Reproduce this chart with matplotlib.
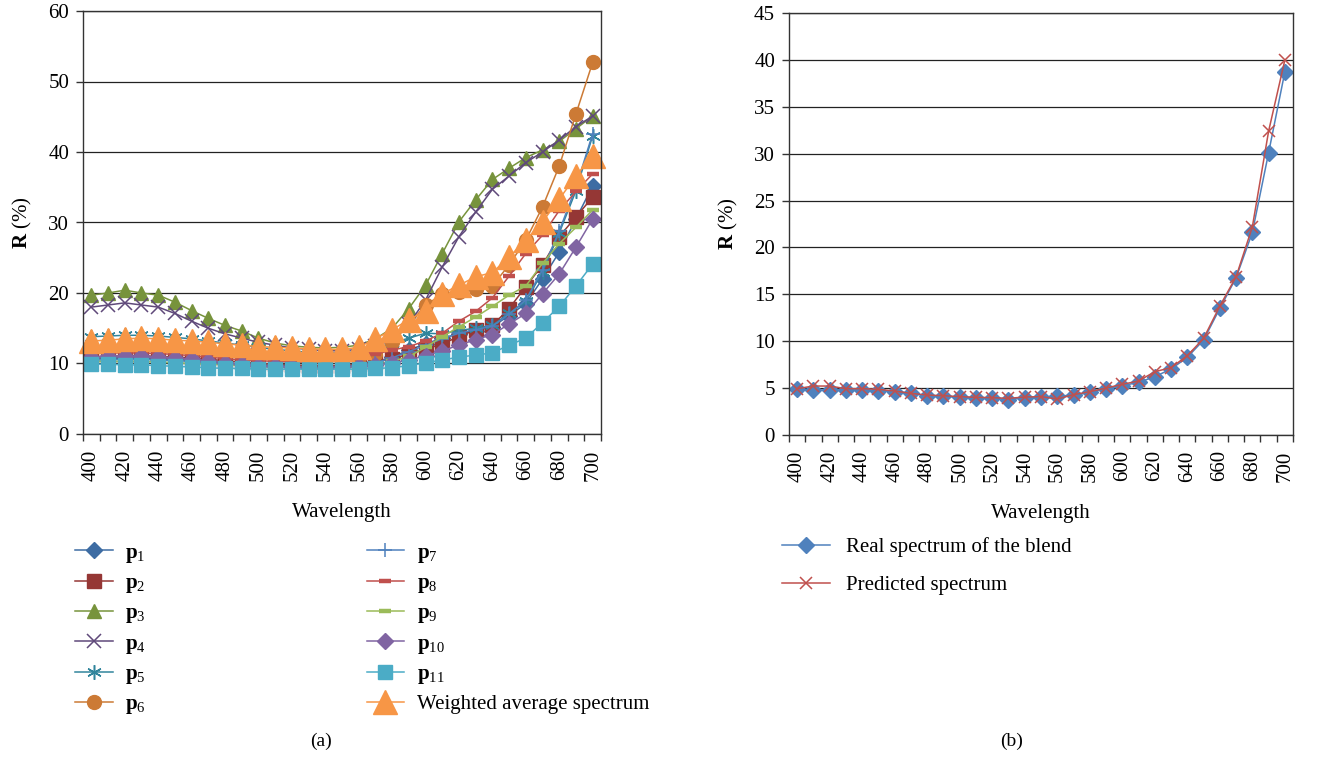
import matplotlib
matplotlib.use("Agg")
import matplotlib.pyplot as plt
from matplotlib.ticker import MultipleLocator

plt.rcParams['font.family'] = ['Liberation Serif', 'DejaVu Serif']
plt.rcParams['mathtext.fontset'] = 'custom'
plt.rcParams['mathtext.rm'] = 'Liberation Serif'
plt.rcParams['mathtext.bf'] = 'Liberation Serif:bold'
plt.rcParams['mathtext.it'] = 'Liberation Serif:italic'

wavelength = list(range(400, 710, 10))

# Reflectance (%) of the eleven components and their weighted average
p1 = [10.8, 10.8, 10.8, 10.8, 10.7, 10.6, 10.5, 10.3, 10.1, 9.9, 9.8, 9.7, 9.6, 9.5, 9.5, 9.6,
      9.8, 10.2, 10.9, 11.9, 12.8, 13.6, 14.2, 14.6, 15.2, 16.8, 18.5, 22.0, 25.8, 30.5, 35.2]
p2 = [11.0, 11.0, 11.1, 11.1, 11.0, 10.9, 10.8, 10.6, 10.4, 10.2, 10.0, 9.9, 9.8, 9.7, 9.7, 9.7,
      9.9, 10.2, 10.7, 11.3, 12.0, 12.8, 13.8, 14.8, 15.4, 17.8, 20.9, 24.0, 28.0, 30.8, 33.6]
p3 = [19.7, 20.0, 20.4, 20.0, 19.7, 18.7, 17.5, 16.4, 15.4, 14.6, 13.6, 12.9, 12.5, 12.3, 12.2, 12.3,
      12.6, 13.5, 15.0, 17.8, 21.1, 25.6, 30.1, 33.2, 36.1, 37.7, 39.2, 40.3, 41.5, 43.3, 45.1]
p4 = [18.0, 18.3, 18.6, 18.3, 18.0, 17.1, 16.0, 15.0, 14.2, 13.6, 13.0, 12.6, 12.2, 12.0, 11.8, 11.8,
      12.0, 12.5, 13.3, 15.6, 19.0, 23.7, 28.0, 31.5, 34.7, 36.6, 38.5, 40.0, 41.7, 43.6, 45.1]
p5 = [13.8, 13.9, 14.0, 14.0, 13.9, 13.7, 13.5, 13.2, 12.9, 12.6, 12.3, 12.0, 11.8, 11.6, 11.5, 11.5,
      11.7, 12.2, 12.9, 13.6, 14.3, 14.2, 14.7, 15.0, 15.4, 17.1, 18.8, 23.0, 28.5, 34.5, 42.3]
p6 = [12.0, 12.1, 12.2, 12.2, 12.1, 11.9, 11.7, 11.5, 11.3, 11.1, 10.9, 10.8, 10.7, 10.6, 10.6, 10.7,
      10.9, 11.4, 13.0, 15.5, 18.3, 19.8, 20.2, 20.5, 21.0, 24.0, 27.5, 32.2, 38.0, 45.4, 52.7]
p7 = [10.5, 10.5, 10.6, 10.6, 10.5, 10.4, 10.3, 10.1, 9.9, 9.8, 9.6, 9.5, 9.4, 9.4, 9.4, 9.5,
      9.7, 10.1, 10.8, 11.7, 12.6, 13.5, 14.3, 14.8, 15.3, 17.0, 19.0, 23.3, 28.8, 35.0, 42.6]
p8 = [11.4, 11.5, 11.5, 11.5, 11.4, 11.3, 11.1, 10.9, 10.7, 10.5, 10.4, 10.3, 10.2, 10.2, 10.3, 10.5,
      10.8, 11.3, 11.9, 12.4, 13.2, 14.3, 16.0, 17.4, 19.3, 22.4, 25.6, 28.2, 31.7, 34.4, 36.9]
p9 = [10.3, 10.3, 10.3, 10.3, 10.2, 10.1, 10.0, 9.9, 9.8, 9.7, 9.6, 9.5, 9.5, 9.4, 9.4, 9.4,
      9.5, 9.8, 10.3, 11.0, 12.3, 13.8, 15.2, 16.6, 18.1, 19.7, 21.0, 24.2, 27.0, 29.3, 31.8]
p10 = [10.9, 11.0, 11.0, 11.0, 10.9, 10.8, 10.6, 10.4, 10.1, 9.9, 9.7, 9.6, 9.5, 9.4, 9.4, 9.5,
       9.6, 9.8, 10.1, 10.5, 11.1, 11.8, 12.6, 13.4, 14.1, 15.6, 17.1, 19.9, 22.7, 26.5, 30.5]
p11 = [9.9, 9.9, 9.8, 9.8, 9.7, 9.6, 9.5, 9.4, 9.3, 9.3, 9.2, 9.2, 9.2, 9.2, 9.2, 9.2,
       9.2, 9.3, 9.4, 9.7, 10.1, 10.5, 10.9, 11.2, 11.5, 12.6, 13.6, 15.8, 18.1, 21.0, 24.1]
weighted_avg = [13.2, 13.3, 13.5, 13.6, 13.5, 13.3, 13.2, 13.0, 12.8, 12.6, 12.4, 12.3, 12.2, 12.1, 12.0, 12.0,
                12.3, 13.5, 14.8, 16.2, 17.5, 19.9, 21.1, 22.3, 22.9, 25.1, 27.5, 30.1, 33.3, 36.6, 39.5]

# Blend: measured vs predicted reflectance (%)
real_blend = [4.87, 4.8, 4.8, 4.8, 4.8, 4.73, 4.62, 4.44, 4.19, 4.12, 4.02, 3.94, 3.91, 3.77, 3.98, 4.02,
              4.16, 4.23, 4.55, 4.94, 5.26, 5.61, 6.22, 7.04, 8.28, 10.13, 13.5, 16.77, 21.6, 30.1, 38.73]
predicted = [4.94, 5.22, 5.22, 4.94, 4.94, 4.87, 4.69, 4.44, 4.26, 4.19, 4.09, 4.02, 3.98, 3.91, 4.05, 4.09,
             3.84, 4.3, 4.62, 5.01, 5.4, 5.76, 6.75, 7.18, 8.46, 10.3, 13.75, 16.88, 22.2, 32.4, 40.0]

series_labels = [r'$\mathbf{p}_{1}$', r'$\mathbf{p}_{2}$', r'$\mathbf{p}_{3}$', r'$\mathbf{p}_{4}$',
                 r'$\mathbf{p}_{5}$', r'$\mathbf{p}_{6}$', r'$\mathbf{p}_{7}$', r'$\mathbf{p}_{8}$',
                 r'$\mathbf{p}_{9}$', r'$\mathbf{p}_{10}$', r'$\mathbf{p}_{11}$', 'Weighted average spectrum']

styles = [
    dict(color='#3D6CA3', marker='D', ms=8.3),
    dict(color='#953735', marker='s', ms=9.5),
    dict(color='#77933C', marker='^', ms=10.0),
    dict(color='#5F497A', marker='x', ms=9.5, mew=1.1),
    dict(color='#31859C', marker=(6, 2, 0), ms=10.5, mew=1.1),
    dict(color='#CC7A35', marker='o', ms=10.0),
    dict(color='#4F81BD', marker='+', ms=10.5, mew=1.1),
    dict(color='#C0504D', marker='_', ms=9.0, mew=3.2),
    dict(color='#9BBB59', marker='_', ms=9.0, mew=3.2),
    dict(color='#8064A2', marker='D', ms=8.3),
    dict(color='#4BACC6', marker='s', ms=10.0),
    dict(color='#F79646', marker='^', ms=17.0),
]

fig = plt.figure(figsize=(13.31, 7.57), dpi=100)
GRID = '#222222'
TICK_FS = 15
LABEL_FS = 15


def style_axes(ax, ymax, ystep):
    ax.set_xlim(395, 705)
    ax.set_ylim(0, ymax)
    ax.yaxis.set_major_locator(MultipleLocator(ystep))
    ax.xaxis.set_major_locator(MultipleLocator(20))
    ax.xaxis.set_minor_locator(MultipleLocator(10, offset=5))
    ax.grid(axis='y', color=GRID, linewidth=0.9)
    ax.set_axisbelow(True)
    for s in ax.spines.values():
        s.set_color('#333333')
        s.set_linewidth(1.0)
    ax.tick_params(axis='x', which='major', length=0, labelrotation=90, labelsize=TICK_FS, pad=11)
    ax.tick_params(axis='x', which='minor', length=5, width=1.0, color='#333333', direction='out')
    ax.tick_params(axis='y', which='major', length=5, width=1.0, color='#333333', labelsize=TICK_FS, pad=5)
    ax.set_xlabel('Wavelength', fontsize=LABEL_FS, labelpad=16)
    ax.set_ylabel(r'$\mathbf{R}$ (%)', fontsize=LABEL_FS, labelpad=10)


# (a) component spectra
ax1 = fig.add_axes([83 / 1331, 1 - 434 / 757, 518 / 1331, 423 / 757])
series = [p1, p2, p3, p4, p5, p6, p7, p8, p9, p10, p11, weighted_avg]
handles = []
for vals, lab, st in zip(series, series_labels, styles):
    h, = ax1.plot(wavelength, vals, linestyle='-', linewidth=1.1, color=st['color'],
                  marker=st['marker'], markersize=st['ms'], markeredgewidth=st.get('mew', 1.0),
                  markerfacecolor=st['color'], markeredgecolor=st['color'], label=lab, clip_on=False)
    handles.append(h)
style_axes(ax1, 60, 10)

fig.legend(handles=handles, labels=series_labels, loc='upper left',
           bbox_to_anchor=(75 / 1331, 1 - 543 / 757), ncol=2, frameon=False,
           fontsize=15, handlelength=1.8, handletextpad=0.6, columnspacing=10.6,
           labelspacing=0.42, borderpad=0, borderaxespad=0)

# (b) blend spectra
ax2 = fig.add_axes([789 / 1331, 1 - 435 / 757, 504 / 1331, 422 / 757])
hb1, = ax2.plot(wavelength, real_blend, color='#4F81BD', linewidth=1.1, marker='D', markersize=8.5,
                markerfacecolor='#4F81BD', markeredgecolor='#4F81BD', label='Real spectrum of the blend')
hb2, = ax2.plot(wavelength, predicted, color='#C0504D', linewidth=1.1, marker='x', markersize=8.0,
                markeredgewidth=1.1, label='Predicted spectrum')
style_axes(ax2, 45, 5)

fig.legend(handles=[hb1, hb2], loc='upper left', bbox_to_anchor=(782 / 1331, 1 - 537 / 757),
           frameon=False, fontsize=15, handlelength=2.3, handletextpad=0.75,
           labelspacing=0.9, borderpad=0, borderaxespad=0)

fig.text(321 / 1331, 1 - 741 / 757, '(a)', ha='center', va='center', fontsize=14)
fig.text(1012 / 1331, 1 - 741 / 757, '(b)', ha='center', va='center', fontsize=14)

fig.savefig('out.png', dpi=100)
